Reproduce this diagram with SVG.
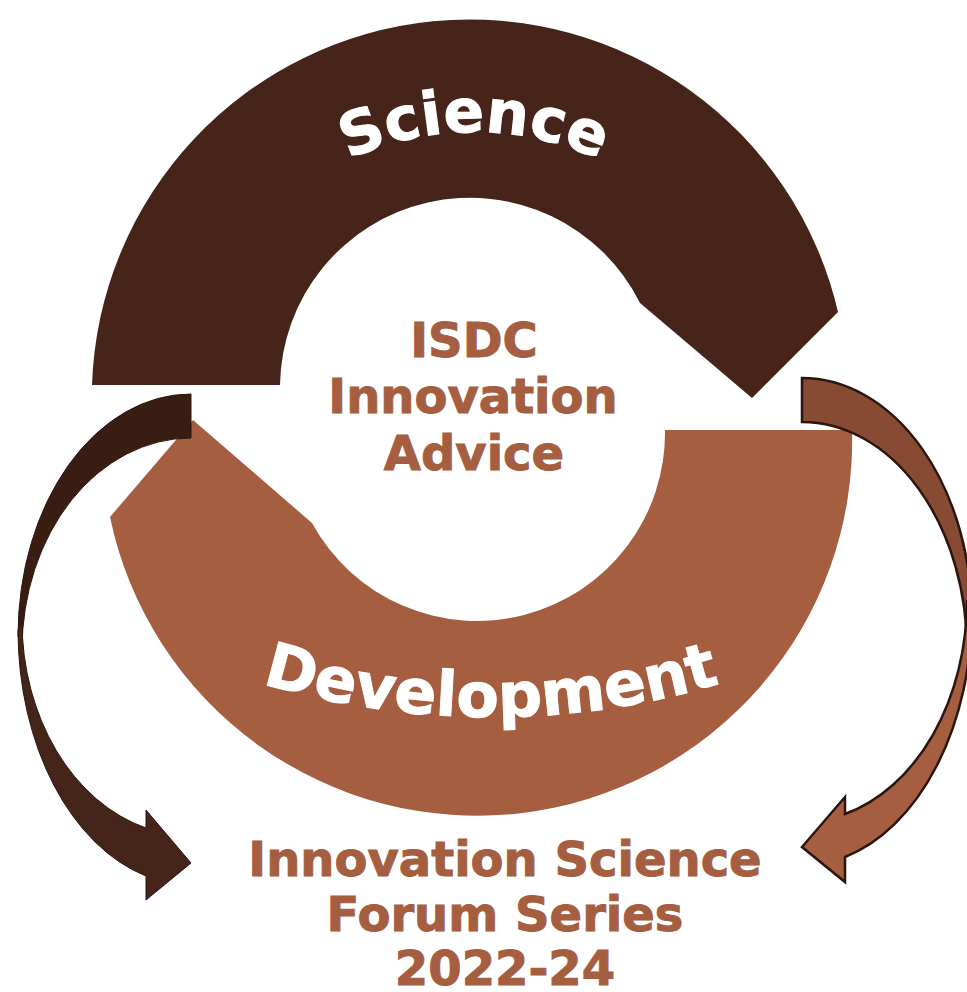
<svg xmlns="http://www.w3.org/2000/svg" width="967" height="992" viewBox="0 0 967 992">
<style>
.band-text{font-family:"DejaVu Sans","Verdana",sans-serif;font-weight:bold;fill:#ffffff;stroke:#ffffff;stroke-width:1;}
.label{font-family:"DejaVu Sans","Verdana",sans-serif;font-weight:bold;font-size:48px;fill:#A65E40;stroke:#A65E40;stroke-width:1;text-anchor:middle;}
</style>
<defs>
<path id="sciencePath" d="M174,432 A300,300 0 0 1 774,432"/>
<path id="devPath" d="M202,663 A800,800 0 0 0 780,663"/>
</defs>
<rect width="967" height="992" fill="#ffffff"/>
<g id="science">
<path d="M92,385 A378,378 0 0 1 838,312 L752,398 L640,303 A190,190 0 0 0 280,385 Z" fill="#46241A"/>
<text class="band-text" font-size="60"><textPath href="#sciencePath" startOffset="50%" text-anchor="middle">Science</textPath></text>
</g>
<g id="development">
<path d="M852,430 A375,375 0 0 1 110,517 L193,420 L312,523 A188,188 0 0 0 665,430 Z" fill="#A65E40"/>
<text class="band-text" font-size="62"><textPath href="#devPath" startOffset="50%" text-anchor="middle">Development</textPath></text>
</g>
<g id="connectors">
<g id="left-arrow" stroke="#2C160E" stroke-width="1">
<path d="M191,394 A173,242 0 0 0 18,636 L22,650 A169,212 0 0 1 191,438 Z" fill="#391D12"/>
<path d="M18,630 A173,255 0 0 0 146,876 L146,900 L191,863 L146,810 L146,828 A169,215 0 0 1 22,620 Z" fill="#45241A"/>
</g>
<g id="right-arrow" stroke="#2B150D" stroke-width="2.5" stroke-linejoin="miter">
<path d="M802,378 A170,242 0 0 1 972,620 L967,650 A165,228 0 0 0 802,422 Z" fill="#874A33"/>
<path d="M972,610 A170,255 0 0 1 845,857 L845,882 L802,847 L845,797 L845,814 A165,222 0 0 0 967,600 Z" fill="#A65E40"/>
</g>
</g>
<g id="center-label">
<text class="label" x="474" y="357">ISDC</text>
<text class="label" x="473" y="413">Innovation</text>
<text class="label" x="474" y="470">Advice</text>
</g>
<g id="forum-label">
<text class="label" x="505" y="876">Innovation Science</text>
<text class="label" x="505" y="931">Forum Series</text>
<text class="label" x="505" y="985">2022-24</text>
</g>
</svg>
